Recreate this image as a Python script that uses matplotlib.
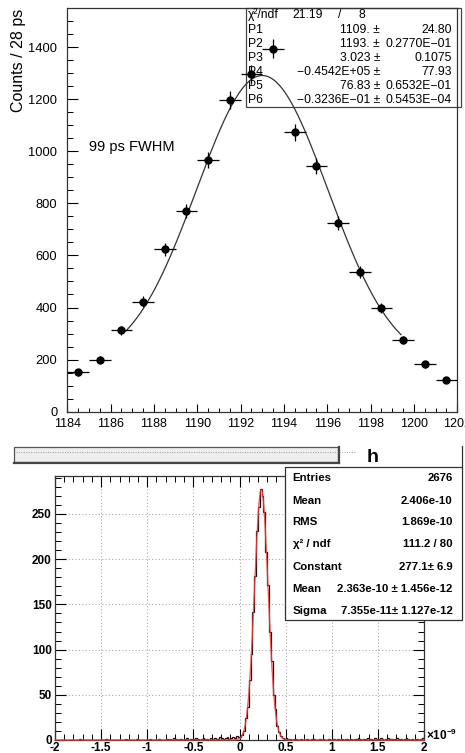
import numpy as np
import matplotlib
matplotlib.use("Agg")
import matplotlib.pyplot as plt
from matplotlib.patches import Rectangle
from matplotlib.lines import Line2D
from matplotlib.ticker import MultipleLocator, FuncFormatter

plt.rcParams['font.family'] = ['Liberation Sans', 'DejaVu Sans']

# ---------------- data: top plot ----------------
top_x = [1184.5, 1185.5, 1186.5, 1187.5, 1188.5, 1189.5, 1190.5, 1191.5, 1192.5,
         1193.5, 1194.5, 1195.5, 1196.5, 1197.5, 1198.5, 1199.5, 1200.5, 1201.5]
top_y = [151, 200, 312, 423, 624, 771, 967, 1196, 1295,
         1394, 1072, 944, 723, 536, 398, 275, 182, 123]
top_fit_params = [1109.0, 1193.0, 3.023, -0.4542e5, 76.83, -0.3236e-1]
top_fit_range = [1186.7, 1199.4]
top_stats_rows = [("P1", "1109. \u00b1", "24.80"),
                  ("P2", "1193. \u00b1", "0.2770E\u221201"),
                  ("P3", "3.023 \u00b1", "0.1075"),
                  ("P4", "\u22120.4542E+05 \u00b1", "77.93"),
                  ("P5", "76.83 \u00b1", "0.6532E\u221201"),
                  ("P6", "\u22120.3236E\u221201 \u00b1", "0.5453E\u221204")]

# ---------------- data: bottom histogram ----------------
counts_far_left = [0,0,0,0,0,0,0,0,0,0, 0,0,0,1,0,0,0,0,0,0, 0,0,0,0,0,0,0,1,0,0,
                   0,0,0,0,0,0,0,0,1,0, 0,0,0,0,1,0,0,0,0,0, 0,1,0,0,0,0,1,0,0,0]
counts_near_left = [1,0,1,0,2,1,0,1,1,0, 1,2,0,1,0,1,2,1,0,1,
                    2,1,1,0,2,1,2,0,1,3, 2,1,2,3,1,2,3,2,4,3]
counts_peak = [3,6,10,24,36,66,95,142,181,231,258,278,270,252,208,171,120,87,50,34,15,9,4,2,1]
counts_right = [2,1,1,0,1,1,0,0,1,0, 0,1,0,0,1,1,0,0,1,0, 1,0,0,1,0,1,1,0,1,0,
                1,0,1,1,0,1,0,1,1,2, 1,0,1,1,2,1,1,0,2,1, 1,2,1,0,1,2,1,1,0,1,
                2,1,1,0,1,2,1,0,1,0, 1,1,0,1,2]
hist_range = [-2.0, 2.0]
gaus_const, gaus_mean, gaus_sigma = 277.1, 0.2363, 0.07355
bottom_stats_rows = [("Entries", "2676"),
                     ("Mean", "2.406e-10"),
                     ("RMS", "1.869e-10"),
                     ("\u03c7\u00b2 / ndf", "111.2 / 80"),
                     ("Constant", "277.1\u00b1 6.9"),
                     ("Mean", "2.363e-10 \u00b1 1.456e-12"),
                     ("Sigma", "7.355e-11\u00b1 1.127e-12")]

W, H = 465, 753
fig = plt.figure(figsize=(W / 100, H / 100), dpi=100)
fig.patch.set_facecolor('white')

def fx(x):
    return x / W

def fy(y):
    return 1 - y / H

# ================= top plot =================
L, R, T, B = 67.3, 457.3, 8.0, 411.7
ax1 = fig.add_axes([fx(L), fy(B), (R - L) / W, (B - T) / H])
ax1.set_xlim(1184, 1202)
ax1.set_ylim(0, 1550)
for s in ax1.spines.values():
    s.set_linewidth(0.9)
    s.set_color('#333333')
ax1.xaxis.set_major_locator(MultipleLocator(2))
ax1.xaxis.set_minor_locator(MultipleLocator(0.5))
ax1.yaxis.set_major_locator(MultipleLocator(200))
ax1.yaxis.set_minor_locator(MultipleLocator(50))
ax1.tick_params(axis='x', which='major', direction='in', length=6, width=0.8,
                labelsize=9, pad=4.2, top=False)
ax1.tick_params(axis='x', which='minor', direction='in', length=3, width=0.7, top=False)
ax1.tick_params(axis='y', which='major', direction='in', length=8, width=0.8,
                labelsize=9.3, pad=7.2, right=False)
ax1.tick_params(axis='y', which='minor', direction='in', length=4.5, width=0.7, right=False)

yerr = np.sqrt(np.array(top_y, dtype=float))
ax1.errorbar(top_x, top_y, xerr=0.5, yerr=yerr, fmt='o', color='black',
             markersize=5, elinewidth=0.9, capsize=0, zorder=5, clip_on=False)

p = top_fit_params
xf = np.linspace(top_fit_range[0], top_fit_range[1], 300)
yf = p[0] * np.exp(-0.5 * ((xf - p[1]) / p[2]) ** 2) + p[3] + p[4] * xf + p[5] * xf ** 2
ax1.plot(xf, yf, color='#333333', lw=0.9, zorder=4)

ax1.text(fx(89), fy(147), "99 ps FWHM", transform=fig.transFigure, fontsize=10.5,
         ha='left', va='center')
fig.text(fx(19), fy(60), "Counts / 28 ps", rotation=90, fontsize=11.5,
         ha='center', va='center')

# stats box (drawn below data)
box = Rectangle((fx(246), fy(107)), (461 - 246) / W, (107 - 8) / H,
                transform=fig.transFigure, facecolor='white', edgecolor='#444444',
                lw=0.9, zorder=2)
ax1.add_patch(box)
box.set_clip_on(False)
fs_top = 8.7
ax1.text(fx(248), fy(15), "\u03c7\u00b2/ndf", transform=fig.transFigure, fontsize=fs_top,
         ha='left', va='center', zorder=3)
ax1.text(fx(292), fy(15), "21.19", transform=fig.transFigure, fontsize=fs_top,
         ha='left', va='center', zorder=3)
ax1.text(fx(340), fy(15), "/", transform=fig.transFigure, fontsize=fs_top,
         ha='center', va='center', zorder=3)
ax1.text(fx(362), fy(15), "8", transform=fig.transFigure, fontsize=fs_top,
         ha='center', va='center', zorder=3)
row_y = [30, 44, 58, 72, 86, 100]
for (name, val, err), ry in zip(top_stats_rows, row_y):
    ax1.text(fx(248), fy(ry), name, transform=fig.transFigure, fontsize=fs_top,
             ha='left', va='center', zorder=3)
    ax1.text(fx(380), fy(ry), val, transform=fig.transFigure, fontsize=fs_top,
             ha='right', va='center', zorder=3)
    ax1.text(fx(452), fy(ry), err, transform=fig.transFigure, fontsize=fs_top,
             ha='right', va='center', zorder=3)

# ================= middle strip =================
strip = Rectangle((fx(14), fy(462)), (338 - 14) / W, (462 - 447) / H,
                  transform=fig.transFigure, facecolor='#eeeeee', edgecolor='#555555',
                  lw=0.9)
fig.add_artist(strip)
fig.add_artist(Line2D([fx(14), fx(339)], [fy(462.5), fy(462.5)],
                      transform=fig.transFigure, color='#444444', lw=1.6))
fig.add_artist(Line2D([fx(338.5), fx(338.5)], [fy(447), fy(462.5)],
                      transform=fig.transFigure, color='#444444', lw=1.6))
fig.add_artist(Line2D([fx(16), fx(355)], [fy(451.7), fy(451.7)],
                      transform=fig.transFigure, color='#999999', lw=0.7,
                      linestyle=(0, (1, 1.5))))
fig.text(fx(373), fy(458), "h", fontsize=14, fontweight='bold', ha='center', va='center')
fig.add_artist(Line2D([fx(461.7), fx(461.7)], [fy(446), fy(467)],
                      transform=fig.transFigure, color='#333333', lw=0.9))

# ================= bottom histogram =================
L2, R2, T2, B2 = 55.0, 424.0, 476.0, 740.0
ax2 = fig.add_axes([fx(L2), fy(B2), (R2 - L2) / W, (B2 - T2) / H])
counts = np.array(counts_far_left + counts_near_left + counts_peak + counts_right, dtype=float)
edges = np.linspace(hist_range[0], hist_range[1], len(counts) + 1)
ax2.stairs(counts, edges, color='#2a0808', lw=0.9, zorder=3)
xg = np.linspace(hist_range[0], hist_range[1], 2000)
ax2.plot(xg, gaus_const * np.exp(-0.5 * ((xg - gaus_mean) / gaus_sigma) ** 2),
         color='#e8403a', lw=1.0, alpha=0.85, zorder=4, clip_on=False)
ax2.set_xlim(-2, 2)
ax2.set_ylim(0, 292)
ax2.xaxis.set_major_locator(MultipleLocator(0.5))
ax2.xaxis.set_minor_locator(MultipleLocator(0.1))
ax2.yaxis.set_major_locator(MultipleLocator(50))
ax2.yaxis.set_minor_locator(MultipleLocator(10))
ax2.xaxis.set_major_formatter(FuncFormatter(lambda v, pos: "%g" % v))
ax2.tick_params(which='major', direction='in', length=8, width=0.8, top=True, right=True)
ax2.tick_params(which='minor', direction='in', length=4, width=0.7, top=True, right=True)
ax2.tick_params(axis='x', labelsize=8.5, pad=1.5)
ax2.tick_params(axis='y', labelsize=8.5, pad=2.4)
for lab in ax2.get_xticklabels() + ax2.get_yticklabels():
    lab.set_fontweight('bold')
ax2.grid(True, which='major', color='#aaaaaa', lw=0.8, linestyle=(0, (1, 2)))
ax2.set_axisbelow(True)
for s in ax2.spines.values():
    s.set_linewidth(0.9)
    s.set_color('#333333')
fig.text(fx(426), fy(735), "\u00d710$^{\\mathregular{-9}}$", fontsize=8.5,
         fontweight='bold', ha='left', va='center')

# stats box of bottom plot
box2 = Rectangle((fx(285), fy(620)), (461.7 - 285) / W, (620 - 466.7) / H,
                 transform=fig.transFigure, facecolor='white', edgecolor='#333333',
                 lw=0.9, zorder=10)
fig.add_artist(box2)
row_y2 = [478.3, 501, 522.3, 544.3, 566.7, 589, 611.3]
for (name, val), ry in zip(bottom_stats_rows, row_y2):
    fig.text(fx(292.7), fy(ry), name, fontsize=8.2, fontweight='bold',
             ha='left', va='center', zorder=11)
    fig.text(fx(452.7), fy(ry), val, fontsize=8.2, fontweight='bold',
             ha='right', va='center', zorder=11)

fig.savefig("out.png", dpi=100)
